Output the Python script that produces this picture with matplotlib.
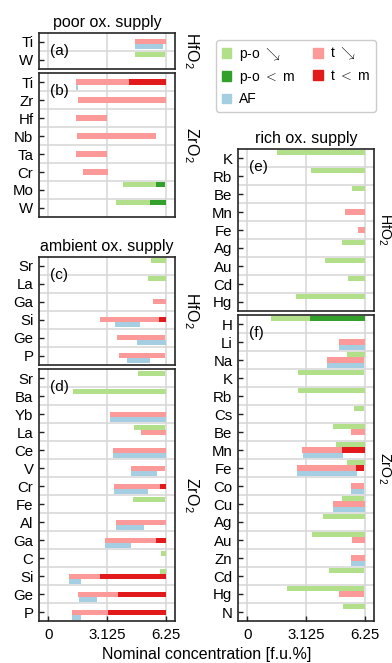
import matplotlib

matplotlib.use("Agg")
import numpy as np
from matplotlib import pyplot as plt
from matplotlib.patches import Patch

plt.rcParams["font.family"] = ["Liberation Sans", "DejaVu Sans"]
plt.rcParams["mathtext.fontset"] = "cm"

FIG_W, FIG_H = 392, 663
ROW_PX = 18.0
AX_W = 136
TICK_FS = 10.8
LABEL_FS = 11.5
LEGEND_FS = 10

COL_PO = "#b2df8a"
COL_PO_M = "#33a02c"
COL_T = "#fb9a99"
COL_T_M = "#e31a1c"
COL_AF = "#a6cee3"

BAR_H = 0.28
XTICKS = [0, 3.125, 6.25]
XTICK_LABELS = ["0", "3.125", "6.25"]

# ranges are (start, end) or (start, dark start, end) in f.u.%
# poor ox. supply, HfO2
A_LABELS = ["Ti", "W"]
A_PO = [None, (4.62, 6.2)]
A_T = [(4.62, 6.25), None]
A_AF = [(4.62, 6.1), None]

# poor ox. supply, ZrO2
B_LABELS = ["Ti", "Zr", "Hf", "Nb", "Ta", "Cr", "Mo", "W"]
B_PO = [None, None, None, None, None, None, (3.98, 5.73, 6.2), (3.6, 5.42, 6.25)]
B_T = [(1.48, 4.3, 6.25), (1.58, 6.25), (1.48, 3.125), (1.53, 5.72),
       (1.48, 3.125), (1.85, 3.18), None, None]
B_AF = [(1.48, 1.58), None, None, None, None, None, None, None]

# ambient ox. supply, HfO2
C_LABELS = ["Sr", "La", "Ga", "Si", "Ge", "P"]
C_PO = [(5.47, 6.25), (5.31, 6.25), None, None, None, None]
C_T = [None, None, (5.58, 6.25), (2.75, 5.9, 6.25), (3.66, 6.21), (3.76, 6.21)]
C_AF = [None, None, None, (3.55, 4.88), (4.72, 6.25), (4.19, 5.42)]

# ambient ox. supply, ZrO2
D_LABELS = ["Sr", "Ba", "Yb", "La", "Ce", "V", "Cr", "Fe", "Al", "Ga", "C", "Si", "Ge", "P"]
D_PO = [(4.78, 6.21), (1.31, 6.25), None, (4.56, 6.21), None, None, None,
        (4.51, 6.21), None, None, (6.0, 6.25), (5.95, 6.25), None, None]
D_T = [None, None, (3.29, 6.25), (4.94, 6.25), (3.45, 6.25), (4.4, 6.21),
       (3.5, 5.95, 6.25), None, (3.6, 6.25), (3.02, 5.73, 6.25), None,
       (1.1, 2.75, 6.25), (1.58, 3.71, 6.25), (1.26, 3.18, 6.25)]
D_AF = [None, None, (3.29, 6.25), None, (3.45, 6.25), (4.4, 5.79), (3.5, 5.29),
        None, (3.6, 5.1), (3.02, 4.4), None, (1.1, 1.74), (1.63, 2.59), (1.26, 1.74)]

# rich ox. supply, HfO2
E_LABELS = ["K", "Rb", "Be", "Mn", "Fe", "Ag", "Au", "Cd", "Hg"]
E_PO = [(1.59, 6.25), (3.4, 6.25), (5.6, 6.25), None, None, (5.07, 6.25),
        (4.16, 6.25), (5.34, 6.25), (2.6, 6.25)]
E_T = [None, None, None, (5.18, 6.25), (5.88, 6.25), None, None, None, None]
E_AF = [None] * 9

# rich ox. supply, ZrO2
F_LABELS = ["H", "Li", "Na", "K", "Rb", "Cs", "Be", "Mn", "Fe", "Co", "Cu",
            "Ag", "Au", "Zn", "Cd", "Hg", "N"]
F_PO = [(1.25, 3.35, 6.25), None, (5.29, 6.25), (2.7, 6.2), (2.7, 6.25),
        (5.66, 6.2), (4.59, 6.25), (4.75, 6.25), (5.29, 6.25), None, (5.07, 6.2),
        (4.05, 6.25), (3.46, 6.25), None, (4.37, 6.2), (2.11, 6.2), (5.12, 6.25)]
F_T = [None, (4.91, 6.25), (4.26, 6.2), None, None, None, (5.55, 6.25),
       (2.92, 5.02, 6.25), (2.65, 5.77, 6.2), (5.55, 6.2), (4.59, 6.25), None,
       (5.6, 6.25), (5.5, 6.25), None, (4.86, 6.2), None]
F_AF = [None, (4.91, 6.25), (4.26, 6.2), None, None, None, None, (2.97, 5.12),
        (2.65, 5.82), (5.55, 6.2), (4.59, 6.25), None, None, (5.5, 6.25), None,
        None, None]


def make_axes(fig, left_px, top_px, nrows):
    height_px = nrows * ROW_PX
    bottom_px = FIG_H - top_px - height_px
    return fig.add_axes([left_px / FIG_W, bottom_px / FIG_H, AX_W / FIG_W, height_px / FIG_H])


def draw_range(axis, y, rng, light, dark):
    if rng is None:
        return
    if len(rng) == 2:
        lo, hi = rng
        axis.barh(y, hi - lo, left=lo, height=BAR_H, color=light, linewidth=0)
    else:
        lo, mid, hi = rng
        axis.barh(y, mid - lo, left=lo, height=BAR_H, color=light, linewidth=0)
        axis.barh(y, hi - mid, left=mid, height=BAR_H, color=dark, linewidth=0)


def draw_panel(axis, labels, po, t, af, tag, host, host_gap, host_fs,
               bottom=False, title=None):
    n = len(labels)
    for i in range(n):
        draw_range(axis, i - BAR_H, po[i], COL_PO, COL_PO_M)
        draw_range(axis, i, t[i], COL_T, COL_T_M)
        draw_range(axis, i + BAR_H, af[i], COL_AF, COL_AF)

    axis.set_xlim(-0.5, 6.75)
    axis.set_ylim(n - 0.5, -0.5)
    axis.set_yticks(range(n))
    axis.set_yticklabels(labels)
    axis.set_yticks(np.arange(n - 1) + 0.5, minor=True)
    axis.set_xticks(XTICKS)
    axis.set_axisbelow(True)
    axis.grid(axis="x", which="major", color="#d6d6d6", linewidth=1.1)
    axis.grid(axis="y", which="minor", color="#d6d6d6", linewidth=1.1)
    axis.tick_params(axis="y", which="major", direction="in", length=3.6, width=1.0,
                     pad=4, labelsize=TICK_FS, color="#222222")
    axis.tick_params(axis="y", which="minor", length=0)
    if bottom:
        axis.set_xticklabels(XTICK_LABELS)
        axis.tick_params(axis="x", direction="in", length=3.6, width=1.0, pad=5,
                         labelsize=TICK_FS, color="#222222")
    else:
        axis.tick_params(axis="x", length=0, labelbottom=False)
    for spine in axis.spines.values():
        spine.set_linewidth(1.2)
        spine.set_color("#262626")

    axis.text(0.08, 0.5, tag, ha="left", va="center", fontsize=LABEL_FS - 0.5)
    axis.text(1 + host_gap / AX_W, 0.5, host, transform=axis.transAxes, rotation=270,
              ha="left", va="center", fontsize=host_fs)
    if title:
        axis.set_title(title, fontsize=LABEL_FS, pad=4)


fig = plt.figure(figsize=(FIG_W / 100, FIG_H / 100), dpi=100, facecolor="white")
hfo2 = r"HfO$_\mathregular{2}$"
zro2 = r"ZrO$_\mathregular{2}$"

ax_a = make_axes(fig, 39, 32.5, len(A_LABELS))
draw_panel(ax_a, A_LABELS, A_PO, A_T, A_AF, "(a)", hfo2, 7, LABEL_FS,
           title="poor ox. supply")
ax_b = make_axes(fig, 39, 73, len(B_LABELS))
draw_panel(ax_b, B_LABELS, B_PO, B_T, B_AF, "(b)", zro2, 7, LABEL_FS)
ax_c = make_axes(fig, 39, 256.7, len(C_LABELS))
draw_panel(ax_c, C_LABELS, C_PO, C_T, C_AF, "(c)", hfo2, 7, LABEL_FS,
           title="ambient ox. supply")
ax_d = make_axes(fig, 39, 369.3, len(D_LABELS))
draw_panel(ax_d, D_LABELS, D_PO, D_T, D_AF, "(d)", zro2, 7, LABEL_FS, bottom=True)
ax_e = make_axes(fig, 238, 149, len(E_LABELS))
draw_panel(ax_e, E_LABELS, E_PO, E_T, E_AF, "(e)", hfo2, 2, 10.3,
           title="rich ox. supply")
ax_f = make_axes(fig, 238, 315, len(F_LABELS))
draw_panel(ax_f, F_LABELS, F_PO, F_T, F_AF, "(f)", zro2, 2, 10.3, bottom=True)

handles = [
    Patch(color=COL_PO, label=r"p-o $\searrow$"),
    Patch(color=COL_PO_M, label=r"p-o $<$ m"),
    Patch(color=COL_AF, label="AF"),
    Patch(color=COL_T, label=r"t $\searrow$"),
    Patch(color=COL_T_M, label=r"t $<$ m"),
]
legend = fig.legend(handles=handles, ncol=2, loc="upper left",
                    bbox_to_anchor=(216 / FIG_W, 1 - 40 / FIG_H), borderaxespad=0,
                    fontsize=LEGEND_FS, handlelength=0.7, handleheight=0.7,
                    handletextpad=0.55, columnspacing=1.3, frameon=True,
                    fancybox=True, framealpha=1, edgecolor="#cccccc")

fig.text(206.5 / FIG_W, 1 - 655 / FIG_H, "Nominal concentration [f.u.%]",
         ha="center", va="center", fontsize=LABEL_FS)

fig.savefig("out.png", dpi=100, facecolor="white")
